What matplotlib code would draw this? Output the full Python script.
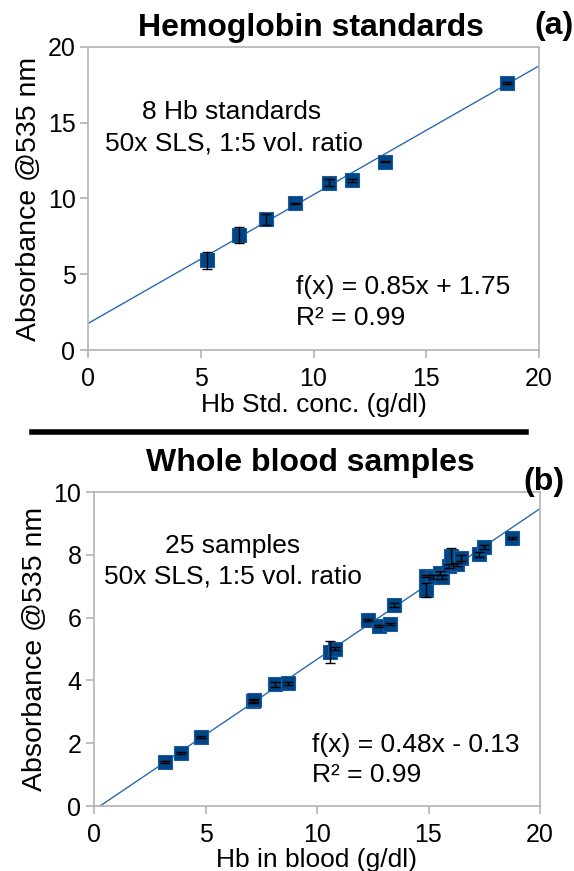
import matplotlib.pyplot as plt
import numpy as np
from matplotlib.lines import Line2D

plt.rcParams['font.family'] = ['Liberation Sans', 'DejaVu Sans']

# (a) Hemoglobin standards
std_conc = [5.29, 6.70, 7.89, 9.19, 10.69, 11.69, 13.19, 18.58]
std_abs = [5.92, 7.57, 8.63, 9.68, 11.04, 11.22, 12.43, 17.62]
std_err = [0.56, 0.52, 0.37, 0.05, 0.24, 0.10, 0.05, 0.08]
fit_a = (0.85, 1.75)

# (b) Whole blood samples
blood_hb = [3.18, 3.89, 4.78, 7.11, 7.18, 8.10, 8.70, 10.58, 10.81, 12.29,
            12.78, 13.29, 13.45, 14.89, 14.89, 15.20, 15.50, 15.60, 15.90,
            16.00, 16.30, 16.45, 17.28, 17.49, 18.73]
blood_abs = [1.39, 1.69, 2.20, 3.33, 3.36, 3.87, 3.91, 4.90, 5.01, 5.93,
             5.72, 5.81, 6.41, 6.89, 7.32, 7.30, 7.42, 7.30, 7.64,
             7.96, 7.70, 7.90, 8.01, 8.26, 8.54]
blood_err = [0.03, 0.03, 0.03, 0.04, 0.04, 0.08, 0.05, 0.34, 0.05, 0.03,
             0.03, 0.03, 0.06, 0.22, 0.03, 0.06, 0.06, 0.06, 0.06,
             0.25, 0.05, 0.10, 0.08, 0.06, 0.03]
fit_b = (0.48, -0.13)

W, H = 574, 871
MARKER = '#004586'
LINE = '#2a6bb0'
SPINE = '#b3b3b3'


def fx(px):
    return px / W


def fy(py):
    return 1 - py / H


def style_axes(ax):
    for s in ax.spines.values():
        s.set_color(SPINE)
        s.set_linewidth(1.2)
    ax.tick_params(direction='out', length=6, width=1.2, color=SPINE,
                   labelsize=18)
    ax.tick_params(axis='x', pad=6)
    ax.tick_params(axis='y', pad=3)


def draw_panel(ax, x, y, err, fit, x_line):
    xl = np.array(x_line)
    ax.plot(xl, fit[0] * xl + fit[1], color=LINE, lw=1, zorder=1)
    ax.plot(x, y, 's', ms=9.5, color=MARKER, mec='#1c5a9c', mew=0.8, zorder=2)
    ax.errorbar(x, y, yerr=err, fmt='none', ecolor='black', elinewidth=1,
                capsize=3.5, capthick=1, zorder=3)


fig = plt.figure(figsize=(W / 100, H / 100), dpi=100)

ax1 = fig.add_axes([fx(88), fy(350), fx(539 - 88), (350 - 47) / H])
draw_panel(ax1, std_conc, std_abs, std_err, fit_a, [0, 20])
ax1.set_xlim(0, 20)
ax1.set_ylim(0, 20)
ax1.set_xticks([0, 5, 10, 15, 20])
ax1.set_yticks([0, 5, 10, 15, 20])
style_axes(ax1)
ax1.set_xlabel('Hb Std. conc. (g/dl)', fontsize=19, labelpad=2)
ax1.set_ylabel('Absorbance @535 nm', fontsize=20.5, labelpad=4)

ax2 = fig.add_axes([fx(94), fy(806), fx(540 - 94), (806 - 492) / H])
x0 = -fit_b[1] / fit_b[0]
draw_panel(ax2, blood_hb, blood_abs, blood_err, fit_b, [x0, 20])
ax2.set_xlim(0, 20)
ax2.set_ylim(0, 10)
ax2.set_xticks([0, 5, 10, 15, 20])
ax2.set_yticks([0, 2, 4, 6, 8, 10])
style_axes(ax2)
ax2.set_xlabel('Hb in blood (g/dl)', fontsize=19, labelpad=1)
ax2.set_ylabel('Absorbance @535 nm', fontsize=20.5, labelpad=4)

# titles and panel tags
fig.text(fx(311), fy(28), 'Hemoglobin standards', fontsize=23, weight='bold',
         ha='center', va='center')
fig.text(fx(554), fy(26), '(a)', fontsize=23, weight='bold',
         ha='center', va='center')
fig.text(fx(310), fy(463), 'Whole blood samples', fontsize=23, weight='bold',
         ha='center', va='center')
fig.text(fx(544), fy(482), '(b)', fontsize=23, weight='bold',
         ha='center', va='center')

# separator
fig.add_artist(Line2D([fx(32), fx(526)], [fy(432), fy(432)], color='black',
                      lw=4, transform=fig.transFigure))

# annotations
fig.text(fx(232), fy(112), '8 Hb standards', fontsize=19, ha='center', va='center')
fig.text(fx(234), fy(143), '50x SLS, 1:5 vol. ratio', fontsize=19,
         ha='center', va='center')
fig.text(fx(296), fy(287), 'f(x) = 0.85x + 1.75', fontsize=19, va='center')
fig.text(fx(296), fy(318), 'R² = 0.99', fontsize=19, va='center')

fig.text(fx(233), fy(546), '25 samples', fontsize=19, ha='center', va='center')
fig.text(fx(233), fy(576), '50x SLS, 1:5 vol. ratio', fontsize=19,
         ha='center', va='center')
fig.text(fx(312), fy(745), 'f(x) = 0.48x - 0.13', fontsize=19, va='center')
fig.text(fx(312), fy(775), 'R² = 0.99', fontsize=19, va='center')

fig.savefig('out.png', dpi=100)
